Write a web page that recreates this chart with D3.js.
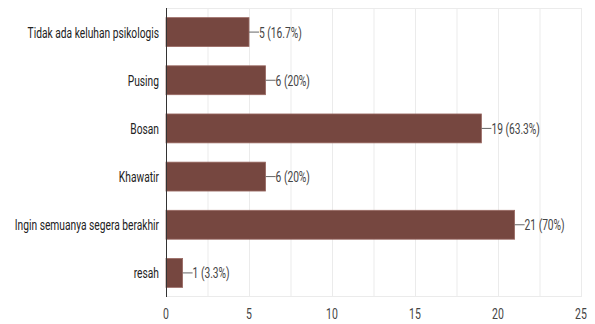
<!DOCTYPE html>
<html>
<head>
<meta charset="utf-8">
<script src="https://cdn.jsdelivr.net/npm/d3@7"></script>
<style>
  body { margin: 0; background: #fff; }
  svg text { font-family: Roboto, sans-serif; }
</style>
</head>
<body>
<div id="chart"></div>
<script>
// data
const categories = ['Tidak ada keluhan psikologis', 'Pusing', 'Bosan', 'Khawatir', 'Ingin semuanya segera berakhir', 'resah'];
const counts = [5, 6, 19, 6, 21, 1];
const percents = ['16.7%', '20%', '63.3%', '20%', '70%', '3.3%'];
const xTicks = [0, 5, 10, 15, 20, 25];

const width = 595, height = 324;
const margin = { top: 8, right: 14, bottom: 27, left: 166 };
const innerW = width - margin.left - margin.right;
const innerH = height - margin.top - margin.bottom;
const fontSize = 15.5;
const squeeze = 0.66; // the reference type is tall and narrow, so roboto is squeezed sideways
const tickSize = 15;
const tickSqueeze = 0.7;

const svg = d3.select('#chart')
  .append('svg')
  .attr('width', width)
  .attr('height', height)
  .append('g')
  .attr('transform', `translate(${margin.left},${margin.top})`);

const x = d3.scaleLinear().domain([0, 25]).range([0, innerW]);
const y = d3.scaleBand().domain(categories).range([0, innerH]).paddingInner(0.4).paddingOuter(0.2);

// gridlines, every 2.5
svg.append('g')
  .selectAll('line')
  .data(d3.range(0, 25.01, 2.5))
  .enter()
  .append('line')
  .attr('x1', d => x(d) + 0.5)
  .attr('x2', d => x(d) + 0.5)
  .attr('y1', 0)
  .attr('y2', innerH)
  .attr('stroke', '#ebebeb');

svg.append('line')
  .attr('x1', 0).attr('x2', innerW)
  .attr('y1', 0.5).attr('y2', 0.5)
  .attr('stroke', '#ebebeb');
svg.append('line')
  .attr('x1', 0).attr('x2', innerW)
  .attr('y1', innerH - 0.5).attr('y2', innerH - 0.5)
  .attr('stroke', '#ebebeb');

const rows = categories.map((c, i) => ({ c, v: counts[i], p: percents[i] }));

svg.selectAll('rect.bar')
  .data(rows)
  .enter()
  .append('rect')
  .attr('class', 'bar')
  .attr('x', 0)
  .attr('y', d => y(d.c))
  .attr('width', d => x(d.v))
  .attr('height', y.bandwidth())
  .attr('fill', '#764740')
  .attr('stroke', '#9a6a63')
  .attr('stroke-width', 0.8);

// leader lines + value labels
svg.selectAll('line.lead')
  .data(rows)
  .enter()
  .append('line')
  .attr('x1', d => x(d.v))
  .attr('x2', d => x(d.v) + 10)
  .attr('y1', d => y(d.c) + y.bandwidth() / 2)
  .attr('y2', d => y(d.c) + y.bandwidth() / 2)
  .attr('stroke', '#666');

svg.selectAll('text.val')
  .data(rows)
  .enter()
  .append('text')
  .attr('transform', d => `translate(${x(d.v) + 10},${y(d.c) + y.bandwidth() / 2}) scale(${squeeze},1)`)
  .attr('dy', '0.35em')
  .attr('font-size', fontSize)
  .attr('fill', '#444')
  .text(d => `${d.v} (${d.p})`);

// category axis
svg.append('line')
  .attr('x1', 0.5).attr('x2', 0.5)
  .attr('y1', 0).attr('y2', innerH)
  .attr('stroke', '#333');

svg.selectAll('text.cat')
  .data(categories)
  .enter()
  .append('text')
  .attr('transform', d => `translate(-7,${y(d) + y.bandwidth() / 2}) scale(${squeeze},1)`)
  .attr('dy', '0.35em')
  .attr('text-anchor', 'end')
  .attr('font-size', fontSize)
  .attr('fill', '#222')
  .text(d => d);

// x tick labels
svg.selectAll('text.tick')
  .data(xTicks)
  .enter()
  .append('text')
  .attr('transform', d => `translate(${x(d)},${innerH + 17}) scale(${tickSqueeze},1)`)
  .attr('dy', '0.35em')
  .attr('text-anchor', 'middle')
  .attr('font-size', tickSize)
  .attr('fill', '#444')
  .text(d => d);
</script>
</body>
</html>
